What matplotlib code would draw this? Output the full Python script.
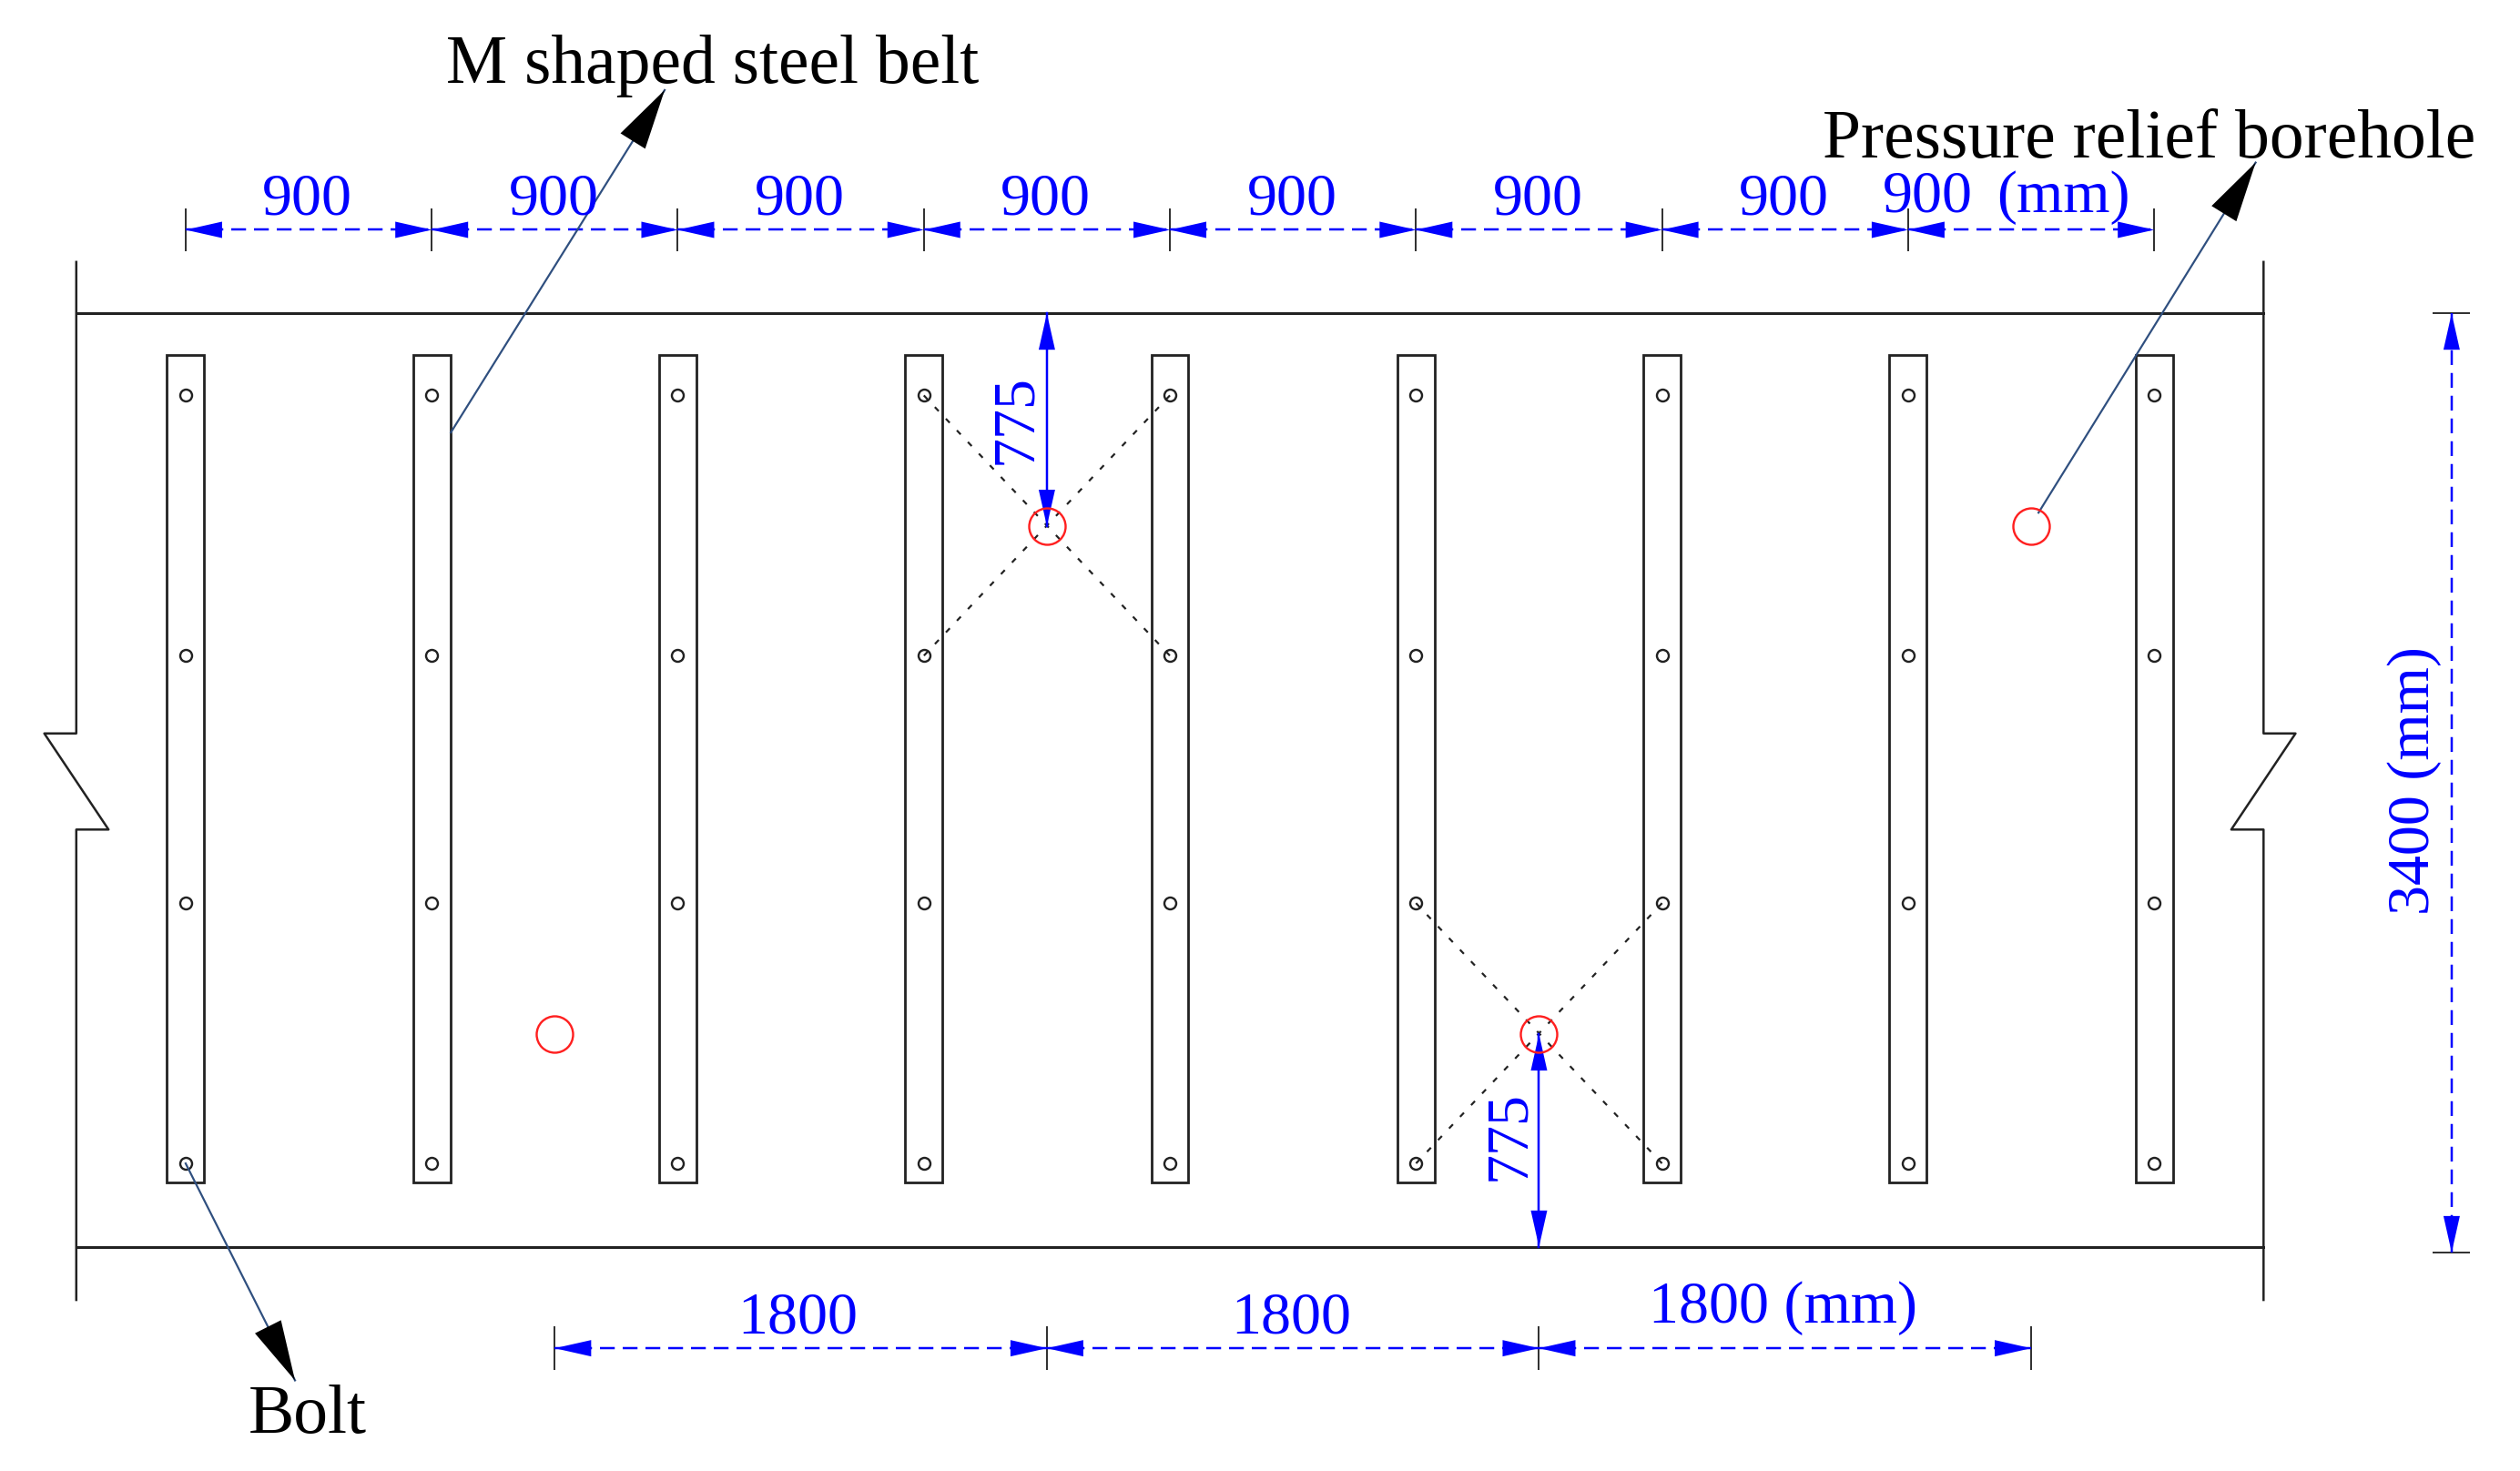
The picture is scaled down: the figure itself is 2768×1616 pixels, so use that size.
import matplotlib
matplotlib.use("Agg")
from matplotlib import pyplot as plt
from matplotlib.patches import Rectangle

plt.rcParams["font.family"] = ["Liberation Serif", "DejaVu Serif"]

# everything below is in mm on the drawing
belt_x = [0, 900, 1800, 2700, 3600, 4500, 5400, 6300, 7200]
bolt_y = [3101, 2153, 1252, 304]
belt_top = 3247
belt_bottom = 234
belt_w = 136

hole_x = [1350, 3150, 4950, 6750]
hole_y = [775, 2625, 775, 2625]

roof_y = 3400
floor_y = 0
wall_left = -400
wall_right = 7600
wall_top = 3587
wall_bottom = -193
notch_hi = 1870
notch_lo = 1520

top_chain_x = [0, 900, 1800, 2700, 3600, 4500, 5400, 6300, 7200]
top_chain_y = 3704
bottom_chain_x = [1350, 3150, 4950, 6750]
bottom_chain_y = -369
right_dim_x = 8288

BLUE = "#0000ff"
LEADER = "#2f4f7f"
px = 72 / 100  # points per pixel at dpi 100


def blue_head(ax, tip, tail):
    ax.annotate("", xy=tip, xytext=tail,
                arrowprops=dict(arrowstyle="-|>,head_length=%f,head_width=%f" % (40 * px, 9 * px),
                                mutation_scale=1, lw=0, color=BLUE, shrinkA=0, shrinkB=0))


def dim(ax, a, b, ls="--"):
    style = (0, (6.5, 3.5)) if ls == "--" else "-"
    ax.plot([a[0], b[0]], [a[1], b[1]], color=BLUE, lw=2.5 * px, ls=style, zorder=3)
    blue_head(ax, a, b)
    blue_head(ax, b, a)


def leader(ax, a, tip):
    ax.plot([a[0], tip[0]], [a[1], tip[1]], color=LEADER, lw=2.2 * px, zorder=3)
    tail = (a[0] + (tip[0] - a[0]) * 0.6, a[1] + (tip[1] - a[1]) * 0.6)
    ax.annotate("", xy=tip, xytext=tail,
                arrowprops=dict(arrowstyle="-|>,head_length=%f,head_width=%f" % (66 * px, 16 * px),
                                mutation_scale=1, lw=0, color="black", shrinkA=0, shrinkB=0))


fig = plt.figure(figsize=(27.68, 16.16), dpi=100)
ax = fig.add_axes([0, 0, 1, 1])
ax.set_xlim(-679, 8538)
ax.set_ylim(-816, 4541)
ax.axis("off")

# roadway outline
ax.plot([wall_left, wall_right], [roof_y, roof_y], color="#222222", lw=3 * px)
ax.plot([wall_left, wall_right], [floor_y, floor_y], color="#222222", lw=3 * px)
ax.plot([wall_left, wall_left, wall_left - 117, wall_left + 118, wall_left, wall_left],
        [wall_top, notch_hi, notch_hi, notch_lo, notch_lo, wall_bottom], color="#222222", lw=2.5 * px)
ax.plot([wall_right, wall_right, wall_right + 117, wall_right - 118, wall_right, wall_right],
        [wall_top, notch_hi, notch_hi, notch_lo, notch_lo, wall_bottom], color="#222222", lw=2.5 * px)

# steel belts and bolts
for x in belt_x:
    ax.add_patch(Rectangle((x - belt_w / 2, belt_bottom), belt_w, belt_top - belt_bottom,
                           fill=False, ec="#222222", lw=2.8 * px))
    ax.plot([x] * len(bolt_y), bolt_y, ls="none", marker="o", ms=13 * px, mfc="none",
            mec="#222222", mew=2.4 * px)

# pressure relief holes
ax.plot(hole_x, hole_y, ls="none", marker="o", ms=40 * px, mfc="none", mec="#ff2020", mew=2.4 * px, zorder=4)

# dashed diagonals between the bolts around two holes
for a, b in [((2700, 3101), (3600, 2153)), ((3600, 3101), (2700, 2153)),
             ((4500, 1252), (5400, 304)), ((5400, 1252), (4500, 304))]:
    ax.plot([a[0], b[0]], [a[1], b[1]], color="#222222", lw=2.2 * px, ls=(0, (2.8, 5.2)))

# dimension chains
for a, b in zip(top_chain_x[:-1], top_chain_x[1:]):
    dim(ax, (a, top_chain_y), (b, top_chain_y))
for x in top_chain_x:
    ax.plot([x, x], [top_chain_y - 73, top_chain_y + 73], color="#333333", lw=2 * px)
for a, b in zip(bottom_chain_x[:-1], bottom_chain_x[1:]):
    dim(ax, (a, bottom_chain_y), (b, bottom_chain_y))
for x in bottom_chain_x:
    ax.plot([x, x], [bottom_chain_y - 76, bottom_chain_y + 76], color="#333333", lw=2 * px)

dim(ax, (right_dim_x, -20), (right_dim_x, roof_y))
ax.plot([right_dim_x - 65, right_dim_x + 65], [roof_y, roof_y], color="#333333", lw=2 * px)
ax.plot([right_dim_x - 65, right_dim_x + 65], [-20, -20], color="#333333", lw=2 * px)

dim(ax, (3150, 2625), (3150, roof_y), ls="-")
dim(ax, (4950, 0), (4950, 775), ls="-")

# leaders
leader(ax, (970, 2966), (1752, 4213))
leader(ax, (6777, 2674), (7571, 3949))
leader(ax, (0, 304), (400, -486))

# text
fs = 66 * px
for i in range(7):
    ax.text(446 + 900 * i, 3812, "900", color=BLUE, fontsize=fs, ha="center", va="center")
ax.text(6370, 3823, "900", color=BLUE, fontsize=fs, ha="center", va="center")
ax.text(6868, 3821, "(mm)", color=BLUE, fontsize=fs, ha="center", va="center")
ax.text(2240, -263, "1800", color=BLUE, fontsize=fs, ha="center", va="center")
ax.text(4044, -263, "1800", color=BLUE, fontsize=fs, ha="center", va="center")
ax.text(5843, -222, "1800 (mm)", color=BLUE, fontsize=fs, ha="center", va="center")
ax.text(8153, 1697, "3400 (mm)", color=BLUE, fontsize=fs, ha="center", va="center", rotation=90)
ax.text(3039, 3013, "775", color=BLUE, fontsize=fs, ha="center", va="center", rotation=90)
ax.text(4843, 404, "775", color=BLUE, fontsize=fs, ha="center", va="center", rotation=90)

ax.text(1928, 4300, "M shaped steel belt", color="black", fontsize=75.5 * px, ha="center", va="center")
ax.text(7183, 4029, "Pressure relief borehole", color="black", fontsize=75.5 * px, ha="center", va="center")
ax.text(447, -617, "Bolt", color="black", fontsize=75.5 * px, ha="center", va="center")

fig.savefig("out.png", dpi=100, facecolor="white")
